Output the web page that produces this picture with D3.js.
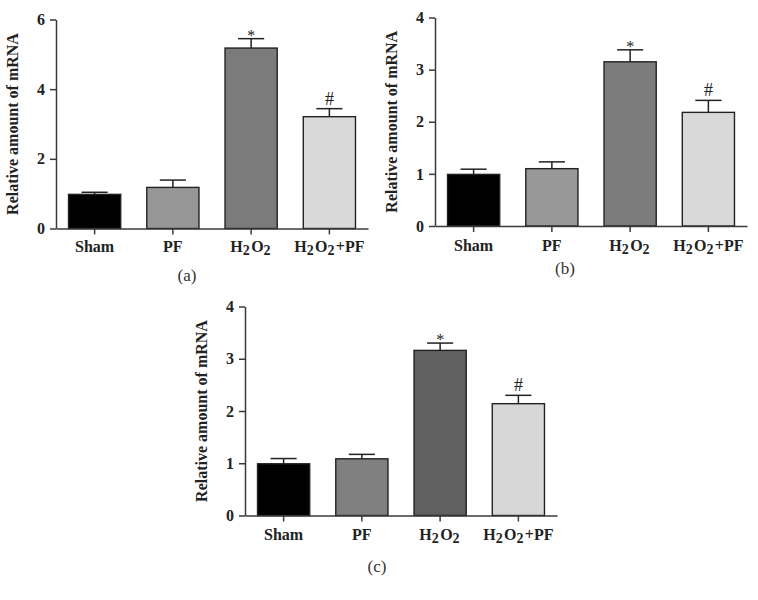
<!DOCTYPE html>
<html>
<head>
<meta charset="utf-8">
<script src="https://cdn.jsdelivr.net/npm/d3@7"></script>
<style>
  html, body { margin: 0; padding: 0; background: #fff; }
  svg { display: block; }
</style>
</head>
<body>
<svg id="chart" width="758" height="600"></svg>
<script>
// ---- Data ----
const categories = ["Sham", "PF", "H2O2", "H2O2+PF"];
const marks = ["", "", "*", "#"];

const valuesA = [0.98, 1.18, 5.18, 3.21];
const errorsA = [0.06, 0.21, 0.27, 0.23];
const ticksA = [0, 2, 4, 6];
const colorsA = ["#000000", "#979797", "#7b7b7b", "#d9d9d9"];

const valuesB = [0.99, 1.10, 3.15, 2.18];
const errorsB = [0.10, 0.13, 0.23, 0.23];
const ticksB = [0, 1, 2, 3, 4];
const colorsB = ["#000000", "#989898", "#7c7c7c", "#d9d9d9"];

const valuesC = [0.99, 1.085, 3.16, 2.14];
const errorsC = [0.10, 0.085, 0.14, 0.16];
const ticksC = [0, 1, 2, 3, 4];
const colorsC = ["#000000", "#808080", "#606060", "#d7d7d7"];

const yLabel = "Relative amount of mRNA";
const panelLabels = ["(a)", "(b)", "(c)"];

// ---- Layout ----
const panels = [
  { values: valuesA, errors: errorsA, ticks: ticksA, colors: colorsA, label: panelLabels[0],
    x0: 56, x1: 368, y0: 228.5, y1: 19.5, labelY: 252, capY: 281, capX: 187 },
  { values: valuesB, errors: errorsB, ticks: ticksB, colors: colorsB, label: panelLabels[1],
    x0: 435, x1: 747, y0: 226, y1: 17.5, labelY: 251, capY: 274, capX: 565 },
  { values: valuesC, errors: errorsC, ticks: ticksC, colors: colorsC, label: panelLabels[2],
    x0: 245, x1: 557, y0: 515.5, y1: 306.5, labelY: 540, capY: 572, capX: 377 }
];

const svg = d3.select("#chart");
const serif = "'Liberation Serif', 'Times New Roman', 'DejaVu Serif', serif";
const axisColor = "#3a3a3a";

function addCategoryText(sel, name) {
  // Render digits as subscripts (H2O2 -> H₂O₂)
  const parts = name.match(/[A-Za-z+]+|\d+/g);
  parts.forEach(p => {
    if (/^\d+$/.test(p)) {
      sel.append("tspan").attr("dy", 3).attr("font-size", 14).text(p);
      sel.append("tspan").attr("dy", -3).text("\u200A");
    } else {
      sel.append("tspan").text(p);
    }
  });
}

panels.forEach(p => {
  const g = svg.append("g");
  const x = d3.scaleBand().domain(categories).range([p.x0, p.x1])
    .paddingInner(0.333).paddingOuter(0.16);
  const yMax = p.ticks[p.ticks.length - 1];
  const y = d3.scaleLinear().domain([0, yMax]).range([p.y0, p.y1]);

  const data = categories.map((c, i) => ({ c, v: p.values[i], e: p.errors[i], col: p.colors[i], m: marks[i] }));

  // error bars
  const eb = g.append("g").attr("stroke", "#222").attr("stroke-width", 1.5);
  data.forEach(d => {
    const cx = x(d.c) + x.bandwidth() / 2;
    const half = x.bandwidth() / 4;
    eb.append("line").attr("x1", cx).attr("x2", cx).attr("y1", y(d.v)).attr("y2", y(d.v + d.e));
    eb.append("line").attr("x1", cx - half).attr("x2", cx + half).attr("y1", y(d.v + d.e)).attr("y2", y(d.v + d.e));
  });

  // bars
  g.append("g").selectAll("rect").data(data).join("rect")
    .attr("x", d => x(d.c))
    .attr("y", d => y(d.v))
    .attr("width", x.bandwidth())
    .attr("height", d => y(0) - y(d.v))
    .attr("fill", d => d.col)
    .attr("stroke", "#222")
    .attr("stroke-width", 1.4);

  // significance marks
  data.filter(d => d.m).forEach(d => {
    const cx = x(d.c) + x.bandwidth() / 2;
    const top = y(d.v + d.e);
    g.append("text")
      .attr("x", cx)
      .attr("y", d.m === "*" ? top + 2 : top - 4)
      .attr("text-anchor", "middle")
      .attr("font-family", serif)
      .attr("font-size", d.m === "*" ? 16 : 18)
      .attr("fill", "#222")
      .text(d.m);
  });

  // y axis
  const yAxis = d3.axisLeft(y).tickValues(p.ticks).tickFormat(d3.format("d"))
    .tickSize(6).tickPadding(5).tickSizeOuter(0);
  const ya = g.append("g").attr("transform", `translate(${p.x0},0)`).call(yAxis);
  ya.select(".domain").attr("stroke", axisColor).attr("stroke-width", 1.5);
  ya.selectAll(".tick line").attr("stroke", axisColor).attr("stroke-width", 1.5);
  ya.selectAll(".tick text").attr("font-family", serif).attr("font-weight", "bold")
    .attr("font-size", 16).attr("fill", "#222");

  // x axis
  const xAxis = d3.axisBottom(x).tickSize(6).tickSizeOuter(0).tickFormat("");
  const xa = g.append("g").attr("transform", `translate(0,${p.y0})`).call(xAxis);
  xa.select(".domain").attr("stroke", axisColor).attr("stroke-width", 1.5);
  xa.selectAll(".tick line").attr("stroke", axisColor).attr("stroke-width", 1.5);

  // category labels
  categories.forEach(c => {
    const t = g.append("text")
      .attr("x", x(c) + x.bandwidth() / 2)
      .attr("y", p.labelY)
      .attr("text-anchor", "middle")
      .attr("font-family", serif)
      .attr("font-weight", "bold")
      .attr("font-size", 16)
      .attr("fill", "#222");
    addCategoryText(t, c);
  });

  // y label
  g.append("text")
    .attr("transform", `translate(${p.x0 - 38},${(p.y0 + p.y1) / 2}) rotate(-90)`)
    .attr("text-anchor", "middle")
    .attr("font-family", serif)
    .attr("font-weight", "bold")
    .attr("font-size", 16)
    .attr("fill", "#222")
    .text(yLabel);

  // panel caption
  g.append("text")
    .attr("x", p.capX)
    .attr("y", p.capY)
    .attr("text-anchor", "middle")
    .attr("font-family", serif)
    .attr("font-size", 17)
    .attr("fill", "#333")
    .text(p.label);
});
</script>
</body>
</html>
